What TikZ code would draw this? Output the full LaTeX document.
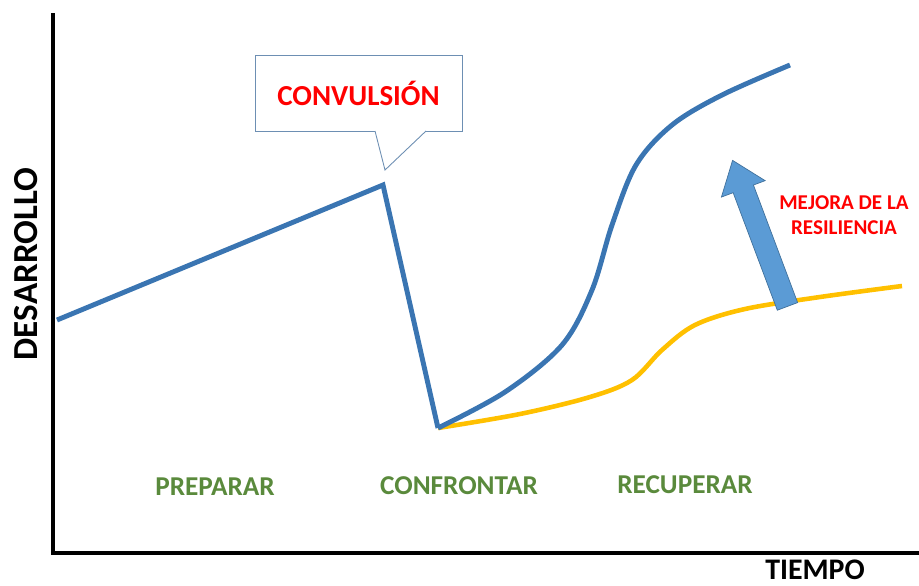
\documentclass[tikz,border=0pt]{standalone}
\usepackage{fontspec}
\setmainfont{Carlito}
\usetikzlibrary{arrows.meta,positioning,shapes.arrows}
\definecolor{resBlue}{HTML}{3A75B2}
\definecolor{resArrow}{HTML}{5B9BD5}
\definecolor{resArrowEdge}{HTML}{41719C}
\definecolor{resGold}{HTML}{FFC000}
\definecolor{resGreen}{HTML}{5A8A3C}
\definecolor{resRed}{HTML}{FF0000}
\definecolor{resCallout}{HTML}{6D8FB3}
\tikzset{
  axisline/.style={line width=2.2pt,black},
  bluecurve/.style={line width=2.8pt,resBlue,line join=miter},
  goldcurve/.style={line width=2.6pt,resGold},
  phaselabel/.style={font=\bfseries\fontsize{15.5}{17}\selectfont,text=resGreen},
  axislabel/.style={font=\bfseries\fontsize{17}{19}\selectfont,text=black},
  redlabel/.style={font=\bfseries\fontsize{12}{14.2}\selectfont,text=resRed,align=center}
}

\begin{document}
\begin{tikzpicture}[x=0.02cm,y=-0.02cm]
  \useasboundingbox (0,0) rectangle (919,585);
  % axes
  \coordinate (top) at (53,13);
  \coordinate (origin) at (53,553);
  \coordinate (right) at (919,553);
  \draw[axisline] (top) -- (origin) -- (right);
  \node[axislabel,font=\bfseries\fontsize{20}{22}\selectfont,rotate=90] (ylabel) at (26,264) {DESARROLLO};
  \node[axislabel] (xlabel) at (815,570) {TIEMPO};
  % curves
  \coordinate (start) at (57,320);
  \coordinate (peak) at (383,185);
  \coordinate (low) at (438,428);
  \draw[goldcurve] plot[smooth,tension=0.55] coordinates {(low) (520,414) (590,397) (632,380) (662,350) (695,325) (745,309) (820,297) (902,286)};
  \draw[bluecurve] (start) -- (peak) -- (low);
  \draw[bluecurve] plot[smooth,tension=0.55] coordinates {(low) (505,392) (562,345) (592,290) (612,225) (636,165) (672,125) (722,95) (790,65)};
  % callout
  \node[draw=resCallout,line width=0.5pt,minimum width=207*0.02cm,minimum height=76*0.02cm,
        font=\bfseries\fontsize{16.5}{18}\selectfont,text=resRed] (conv) at (358.5,93) {CONVULSIÓN};
  \coordinate (tip) at (385,170);
  \draw[resCallout,line width=0.5pt,fill=white] (375,131) -- (tip) -- (426,131);
  % resilience arrow
  \node[single arrow,draw=resArrowEdge,fill=resArrow,line width=0.4pt,
        minimum height=156*0.02cm,minimum width=44*0.02cm,inner xsep=0pt,inner ysep=0.21cm,
        single arrow tip angle=75,rotate=110.6] (mejora) at (762.5,240) {};
  \node[redlabel] (reslabel) at (844,215) {MEJORA DE LA\\RESILIENCIA};
  % phases
  \node[phaselabel] (prep) at (215,487) {PREPARAR};
  \node[phaselabel] (conf) at (459,486) {CONFRONTAR};
  \node[phaselabel] (recu) at (685,485) {RECUPERAR};
\end{tikzpicture}
\end{document}
